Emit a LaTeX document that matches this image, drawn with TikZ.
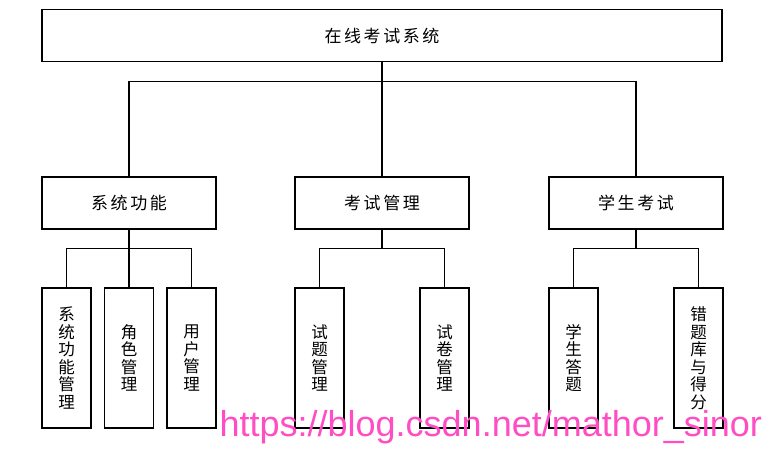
\documentclass[tikz,border=0pt]{standalone}
\usepackage{fontspec}
\newfontfamily\cjk[LetterSpace=15]{Noto Sans CJK SC}
\newfontfamily\cjkv{Noto Sans CJK SC}
\newfontfamily\wmfont{Liberation Sans}
\usepackage{tikz}
\usetikzlibrary{positioning}
\definecolor{wmpink}{RGB}{255,77,196}

\begin{document}
\begin{tikzpicture}[x=1pt,y=-1pt,line width=1.2pt,
    topbox/.style={draw,minimum width=680pt,minimum height=52pt,inner sep=0pt,font=\cjk\fontsize{17}{19}\selectfont},
    midbox/.style={draw,minimum width=174pt,minimum height=52pt,inner sep=0pt,font=\cjk\fontsize{17}{19}\selectfont},
    leafbox/.style={draw,minimum width=49pt,minimum height=140pt,inner sep=0pt,align=center,font=\cjkv\fontsize{16.5}{17.5}\selectfont}]
    \useasboundingbox(0,0)rectangle(772,451);
    % top level
    \node[topbox](sys)at(382,35.6){在线考试系统};
    % second level
    \node[midbox](func)at(129,203){系统功能};
    \node[midbox](exam)at(382,203){考试管理};
    \node[midbox](stud)at(636,203){学生考试};
    % leaves
    \node[leafbox](fmgr)at(66.5,358){系\\统\\功\\能\\管\\理};
    \node[leafbox](role)at(129,358){角\\色\\管\\理};
    \node[leafbox](user)at(191.5,358){用\\户\\管\\理};
    \node[leafbox](qmgr)at(319.5,358){试\\题\\管\\理};
    \node[leafbox](pmgr)at(444.5,358){试\\卷\\管\\理};
    \node[leafbox](answ)at(573.5,358){学\\生\\答\\题};
    \node[leafbox](wrong)at(698.5,358){错\\题\\库\\与\\得\\分};
    % connectors
    \foreach \c in {func,exam,stud}
        \draw(sys.south)--++(0,19.5)-|(\c.north);
    \foreach \p/\c in {func/fmgr,func/role,func/user,exam/qmgr,exam/pmgr,stud/answ,stud/wrong}
        \draw(\p.south)--++(0,19)-|(\c.north);
    % watermark
    \node[anchor=base west,inner sep=0pt,text=wmpink,font=\wmfont\fontsize{36}{40}\selectfont](wm)at(219,436){https://blog.csdn.net/mathor\_sinor};
\end{tikzpicture}
\end{document}
